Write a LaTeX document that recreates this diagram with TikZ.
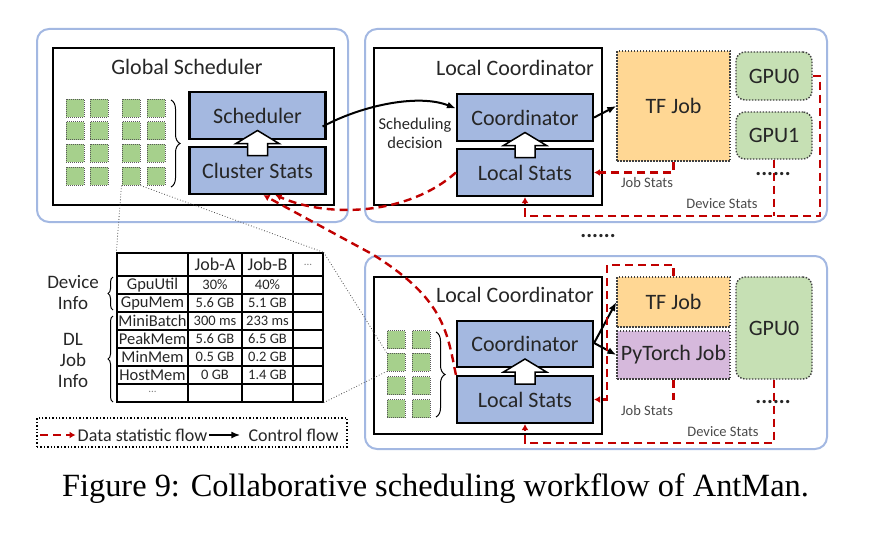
\documentclass[tikz,border=0pt]{standalone}
\usepackage{fontspec}
\setmainfont{Liberation Serif}
\newfontfamily\diagfont{Carlito}
\usepackage{tikz}
\usetikzlibrary{arrows.meta,calc,decorations.pathreplacing}
\definecolor{panelblue}{HTML}{A3B8E2}
\definecolor{statblue}{HTML}{A4B8E0}
\definecolor{chipgreen}{HTML}{A6D08C}
\definecolor{gpugreen}{HTML}{C6E0B4}
\definecolor{tforange}{HTML}{FFD794}
\definecolor{torchpurple}{HTML}{D6B9DC}
\definecolor{flowred}{HTML}{C00000}
\definecolor{ink}{HTML}{262626}
\definecolor{notegray}{HTML}{4A4A4A}

\begin{document}
\begin{tikzpicture}[x=1pt,y=-1pt,
  panel/.style={draw=panelblue,line width=2pt,rounded corners=12pt,inner sep=0,
    minimum width=462pt,minimum height=193pt},
  frame/.style={draw,line width=1.8pt,inner sep=0,minimum width=228pt,minimum height=157pt},
  big/.style={text=ink,inner sep=0,font=\diagfont\fontsize{22}{25}\selectfont},
  stat/.style={big,draw,line width=2.2pt,fill=statblue,minimum width=136pt,minimum height=47pt},
  job/.style={big,draw=black!75,line width=1.4pt,dash pattern=on 1.5pt off 1.5pt,
    minimum width=113pt},
  gpu/.style={job,rounded corners=9pt,fill=gpugreen,minimum width=76pt},
  chip/.style={draw=black!65,line width=1pt,dash pattern=on 1pt off 1pt,fill=chipgreen,
    minimum size=18pt,inner sep=0},
  note/.style={text=notegray,inner sep=0,font=\diagfont\fontsize{14.5}{17}\selectfont},
  side/.style={text=ink,inner sep=0,align=center,font=\diagfont\fontsize{19}{21}\selectfont},
  cell/.style={text=ink,inner sep=0,font=\diagfont\fontsize{14.5}{16}\selectfont},
  rowname/.style={cell,font=\diagfont\fontsize{16.5}{18}\selectfont},
  head/.style={cell,font=\diagfont\fontsize{18}{20}\selectfont},
  faint/.style={cell,text=black!50,font=\diagfont\fontsize{11}{11}\selectfont},
  data/.style={draw=flowred,line width=2.4pt,dash pattern=on 8pt off 5pt,
    -{Latex[length=6pt,width=7pt]}},
  datalink/.style={draw=flowred,line width=2.4pt,dash pattern=on 8pt off 5pt},
  ctrl/.style={draw,line width=2pt,-{Latex[length=9pt,width=7pt]}},
  zoomline/.style={draw=black!70,line width=0.8pt,dotted},
  curly/.style={draw,line width=1pt,decorate,decoration={brace,amplitude=#1}},
  curly/.default=8pt,
  hollowup/.pic={\draw[line width=1.5pt,fill=white,line join=miter]
    (-10,12.5) -- (-10,0.5) -- (-21.5,0.5) -- (0,-12.5) -- (21.5,0.5) -- (10,0.5)
    -- (10,12.5) -- cycle;}
]
\useasboundingbox (0,0) rectangle (874,543);

\node[panel,minimum width=311pt] (gpanel) at (192.5,125.5) {};
\node[frame,minimum width=281pt] (gframe) at (193.5,126.5) {};
\node[big] (gtitle) at (187,67) {Global Scheduler};
\node[stat] (sched) at (257.5,115.5) {Scheduler};
\node[stat] (cstats) at (257.5,170.5) {Cluster Stats};
\foreach \c/\x in {1/75,2/99,3/131,4/156}
  \foreach \r/\y in {1/108,2/130.5,3/153,4/176}
    \node[chip] (gchip-\c-\r) at (\x,\y) {};
\draw[curly=9pt] (171,100) -- (171,187);

\node[panel] (lpanel1) at (596,125.5) {};
\node[frame] (lframe1) at (488,126.5) {};
\node[big] (ltitle1) at (515,68) {Local Coordinator};
\node[stat] (coord1) at (525,117.5) {Coordinator};
\node[stat] (lstats1) at (525,172.5) {Local Stats};
\node[text=ink,inner sep=0,align=center,font=\diagfont\fontsize{16.5}{19}\selectfont]
  (decision) at (415,133) {Scheduling\\decision};
\node[job,fill=tforange,minimum height=110pt] (tfjob1) at (673.5,106) {TF Job};
\node[gpu,minimum height=48pt] (gpu0a) at (774,76) {GPU0};
\node[gpu,minimum height=47pt] (gpu1a) at (774,135.5) {GPU1};
\node[big,font=\diagfont\bfseries\fontsize{22}{25}\selectfont] (dotsa) at (773,174) {......};
\node[note] (jobstats1) at (647,183) {Job Stats};
\node[note] (devstats1) at (722,204) {Device Stats};

\node[big,font=\diagfont\bfseries\fontsize{22}{25}\selectfont] (morenodes) at (598,236) {......};

\node[panel] (lpanel2) at (596,352.5) {};
\node[frame] (lframe2) at (488,355.5) {};
\node[big] (ltitle2) at (515,295) {Local Coordinator};
\node[stat,minimum height=46pt] (coord2) at (525,344) {Coordinator};
\node[stat] (lstats2) at (525,399.5) {Local Stats};
\foreach \c/\x in {1/396,2/421}
  \foreach \r/\y in {1/339.5,2/362,3/385.5,4/408.5}
    \node[chip] (lchip-\c-\r) at (\x,\y) {};
\draw[curly=9pt] (436,332) -- (436,417);
\node[job,fill=tforange,minimum height=50pt] (tfjob2) at (673.5,302) {TF Job};
\node[job,fill=torchpurple,minimum height=48pt] (torchjob) at (673.5,355) {PyTorch Job};
\node[gpu,minimum height=102pt] (gpu0b) at (774,328) {GPU0};
\node[big,font=\diagfont\bfseries\fontsize{22}{25}\selectfont] (dotsb) at (773,402) {......};
\node[note] (jobstats2) at (647,411) {Job Stats};
\node[note] (devstats2) at (723,432) {Device Stats};

\node[draw,line width=1.3pt,inner sep=0,minimum width=206pt,minimum height=149pt]
  (stats) at (220,327.5) {};
\foreach \x in {188,242,293}
  \draw[line width=1.3pt] (\x,253) -- (\x,402);
\foreach \y in {276,294,330,348,366,384}
  \draw[line width=1.3pt] (117,\y) -- (323,\y);
\draw[line width=2pt] (117,312) -- (323,312);
\node[head] (colA) at (215,264.5) {Job-A};
\node[head] (colB) at (267.5,264.5) {Job-B};
\node[faint] (colmore) at (308,264.5) {...};
\foreach \name/\va/\vb [count=\i] in {GpuUtil/30\%/40\%,GpuMem/5.6 GB/5.1 GB,
    MiniBatch/300 ms/233 ms,PeakMem/5.6 GB/6.5 GB,MinMem/0.5 GB/0.2 GB,HostMem/0 GB/1.4 GB}{
  \node[rowname] (row-\i) at (152.5,267+18*\i) {\name};
  \node[cell] (row-\i-a) at (215,267+18*\i) {\va};
  \node[cell] (row-\i-b) at (267.5,267+18*\i) {\vb};
}
\node[faint] (rowmore) at (152.5,392) {...};
\node[side] (devinfo) at (73,293) {Device\\Info};
\node[side] (jobinfo) at (73,360) {DL\\Job\\Info};
\draw[curly=5pt] (113,310) -- (113,277);
\draw[curly=5pt] (113,402) -- (113,316);

\draw[zoomline] (gchip-3-4.south west) -- (stats.north west);
\draw[zoomline] (gchip-3-4.south east) -- (stats.north east);
\draw[zoomline] (stats.north east) -- (lchip-1-2.north west);
\draw[zoomline] (stats.south east) -- (lchip-1-2.south west);

\pic at ($(sched.south)!0.5!(cstats.north)$) {hollowup};
\pic at ($(coord1.south)!0.5!(lstats1.north)$) {hollowup};
\pic at ($(coord2.south)!0.5!(lstats2.north)$) {hollowup};

\draw[ctrl] ($(sched.east)+(-4,11)$) .. controls (365,104) and (420,94) .. ($(coord1.west)+(0,-9)$);
\draw[ctrl] (coord1.east) -- (tfjob1.west);
\draw[ctrl] ($(coord2.east)+(0,-1)$) -- (tfjob2.west);
\draw[ctrl] ($(coord2.east)+(0,-1)$) -- (torchjob.west);

\coordinate (dev1corner) at (820,216);
\coordinate (job2loop) at (607,265);
\coordinate (dev2corner) at (525,443);
\coordinate (bend2) at (372,254);
\draw[data] (tfjob1.south) |- (lstats1.east);
\draw[data] (gpu0a.east) -| (dev1corner) -| (lstats1.south);
\draw[datalink] (gpu1a.south) -- (gpu1a.south |- dev1corner);
\draw[data] (tfjob2.north) |- (job2loop) |- (lstats2.east);
\draw[datalink] (torchjob.south) -- (torchjob.south |- lstats2.east);
\draw[data] (gpu0b.south) |- (dev2corner) -- (lstats2.south);
\draw[data] (lstats1.west) .. controls (410,214) and (330,219) .. ([xshift=18pt]cstats.south);
\draw[data] (lstats2.north west) .. controls (447,330) and (443,298) .. (bend2)
  -- ([xshift=6pt]cstats.south);

\node[draw,line width=1.4pt,dotted,minimum width=310pt,minimum height=29pt,inner sep=0]
  (legend) at (192,432.5) {};
\coordinate (legstart) at (40,435);
\node[text=ink,inner sep=2pt,font=\diagfont\fontsize{18}{20}\selectfont]
  (datalabel) at (142.5,435) {Data statistic flow};
\node[text=ink,inner sep=2pt,font=\diagfont\fontsize{18}{20}\selectfont]
  (ctrllabel) at (293.5,435) {Control flow};
\draw[data] (legstart) -- (datalabel.west);
\draw[ctrl,shorten >=6pt] (datalabel.east) -- (ctrllabel.west);

\node[anchor=base,inner sep=0,font=\fontsize{32.4}{36}\selectfont] (caption) at (435.5,496)
  {Figure 9: Collaborative scheduling workflow of AntMan.};
\end{tikzpicture}
\end{document}
